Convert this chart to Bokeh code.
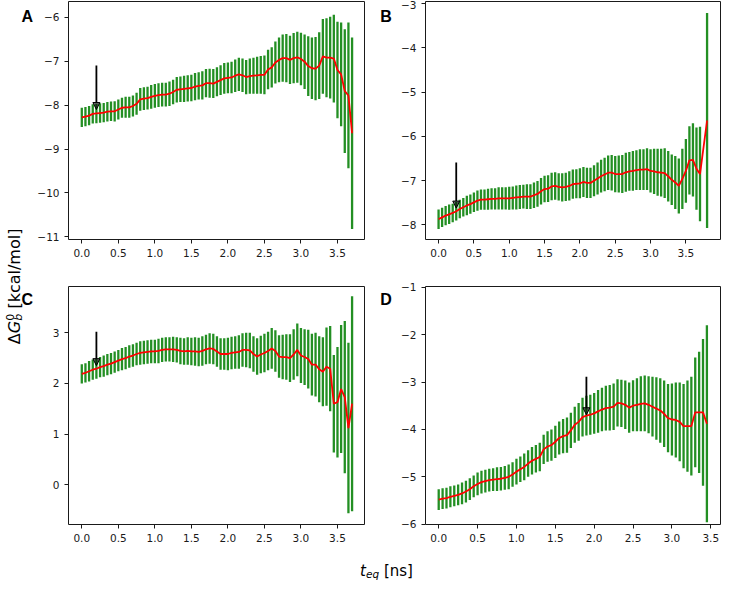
import numpy as np
from bokeh.plotting import figure
from bokeh.models import (Range1d, FixedTicker, CustomJSTickFormatter, Label,
                          Arrow, NormalHead, ColumnDataSource)
from bokeh.layouts import row, column
from bokeh.embed import file_html
from bokeh.resources import INLINE

# ---------------- data ----------------
x_ticks = [0.0, 0.5, 1.0, 1.5, 2.0, 2.5, 3.0, 3.5]

a_mean = [-8.28, -8.26, -8.24, -8.20, -8.19, -8.18, -8.17, -8.15, -8.14, -8.14,
          -8.10, -8.06, -8.05, -8.05, -8.02, -7.97, -7.87, -7.85, -7.84, -7.81,
          -7.79, -7.77, -7.76, -7.76, -7.74, -7.70, -7.65, -7.64, -7.63, -7.62,
          -7.61, -7.58, -7.56, -7.55, -7.50, -7.50, -7.51, -7.47, -7.43, -7.39,
          -7.38, -7.37, -7.33, -7.30, -7.32, -7.36, -7.34, -7.33, -7.32, -7.31,
          -7.31, -7.19, -7.14, -7.03, -6.97, -6.93, -6.93, -6.97, -6.93, -6.91,
          -6.95, -7.01, -7.11, -7.16, -7.17, -7.10, -6.89, -6.92, -6.92, -6.94,
          -7.20, -7.30, -7.68, -7.78, -8.64]
a_err = [0.22, 0.22, 0.22, 0.22, 0.22, 0.22, 0.22, 0.22, 0.22, 0.23,
         0.23, 0.23, 0.24, 0.24, 0.24, 0.25, 0.26, 0.26, 0.26, 0.27,
         0.27, 0.27, 0.27, 0.27, 0.28, 0.28, 0.29, 0.29, 0.30, 0.30,
         0.30, 0.31, 0.31, 0.32, 0.32, 0.33, 0.33, 0.33, 0.34, 0.35,
         0.35, 0.36, 0.37, 0.38, 0.38, 0.39, 0.40, 0.41, 0.42, 0.43,
         0.44, 0.45, 0.46, 0.48, 0.51, 0.54, 0.55, 0.55, 0.57, 0.58,
         0.60, 0.62, 0.68, 0.70, 0.72, 0.76, 0.85, 0.90, 0.93, 1.00,
         1.10, 1.18, 1.41, 1.66, 2.18]
a_yticks = [-11, -10, -9, -8, -7, -6]

b_mean = [-7.87, -7.83, -7.79, -7.76, -7.73, -7.69, -7.64, -7.60, -7.56, -7.53,
          -7.49, -7.45, -7.43, -7.43, -7.42, -7.41, -7.41, -7.40, -7.40, -7.40,
          -7.40, -7.39, -7.38, -7.37, -7.36, -7.36, -7.36, -7.33, -7.30, -7.24,
          -7.19, -7.18, -7.13, -7.12, -7.14, -7.15, -7.14, -7.12, -7.08, -7.07,
          -7.06, -7.03, -7.05, -7.05, -7.00, -6.95, -6.90, -6.86, -6.82, -6.82,
          -6.85, -6.85, -6.85, -6.81, -6.79, -6.78, -6.76, -6.75, -6.75, -6.74,
          -6.78, -6.79, -6.81, -6.82, -6.83, -6.90, -6.98, -7.04, -7.12, -6.96,
          -6.78, -6.54, -6.53, -6.73, -6.85, -5.64]
b_err = [0.22, 0.22, 0.22, 0.22, 0.21, 0.21, 0.21, 0.21, 0.22, 0.22,
         0.22, 0.23, 0.23, 0.23, 0.24, 0.24, 0.24, 0.25, 0.25, 0.25,
         0.26, 0.26, 0.27, 0.27, 0.27, 0.28, 0.28, 0.29, 0.29, 0.30,
         0.30, 0.30, 0.31, 0.31, 0.31, 0.32, 0.32, 0.33, 0.33, 0.33,
         0.34, 0.34, 0.34, 0.34, 0.35, 0.36, 0.37, 0.38, 0.39, 0.40,
         0.41, 0.42, 0.43, 0.44, 0.44, 0.45, 0.45, 0.46, 0.46, 0.47,
         0.49, 0.51, 0.53, 0.54, 0.56, 0.57, 0.57, 0.60, 0.62, 0.68,
         0.72, 0.77, 0.83, 0.93, 1.07, 2.43]
b_yticks = [-8, -7, -6, -5, -4, -3]

c_mean = [2.19, 2.21, 2.24, 2.27, 2.29, 2.32, 2.34, 2.37, 2.39, 2.42,
          2.45, 2.48, 2.50, 2.53, 2.55, 2.58, 2.60, 2.61, 2.62, 2.63,
          2.63, 2.64, 2.66, 2.67, 2.67, 2.67, 2.66, 2.64, 2.63, 2.64,
          2.63, 2.63, 2.62, 2.64, 2.67, 2.69, 2.68, 2.63, 2.58, 2.58,
          2.58, 2.60, 2.61, 2.62, 2.66, 2.66, 2.65, 2.58, 2.53, 2.57,
          2.60, 2.64, 2.69, 2.64, 2.53, 2.52, 2.52, 2.50, 2.57, 2.66,
          2.55, 2.52, 2.48, 2.37, 2.37, 2.28, 2.23, 2.33, 2.29, 1.60,
          1.63, 1.89, 1.73, 1.12, 1.60]
c_err = [0.19, 0.19, 0.20, 0.20, 0.20, 0.20, 0.21, 0.21, 0.21, 0.21,
         0.21, 0.22, 0.22, 0.22, 0.22, 0.22, 0.23, 0.23, 0.23, 0.23,
         0.23, 0.24, 0.24, 0.24, 0.24, 0.25, 0.25, 0.26, 0.26, 0.27,
         0.27, 0.28, 0.28, 0.29, 0.29, 0.30, 0.30, 0.30, 0.31, 0.31,
         0.32, 0.32, 0.32, 0.33, 0.33, 0.34, 0.35, 0.35, 0.36, 0.37,
         0.38, 0.38, 0.40, 0.41, 0.42, 0.44, 0.45, 0.47, 0.50, 0.52,
         0.54, 0.55, 0.58, 0.61, 0.63, 0.65, 0.68, 0.77, 0.84, 0.96,
         1.09, 1.26, 1.50, 1.68, 2.12]
c_yticks = [0, 1, 2, 3]

d_mean = [-5.48, -5.46, -5.45, -5.42, -5.40, -5.38, -5.35, -5.31, -5.26, -5.20,
          -5.15, -5.11, -5.09, -5.07, -5.06, -5.05, -5.04, -5.02, -5.00, -4.95,
          -4.89, -4.84, -4.79, -4.72, -4.66, -4.62, -4.58, -4.42, -4.36, -4.33,
          -4.26, -4.18, -4.14, -4.12, -4.02, -3.90, -3.84, -3.74, -3.71, -3.69,
          -3.66, -3.62, -3.58, -3.55, -3.54, -3.52, -3.44, -3.45, -3.48, -3.54,
          -3.50, -3.48, -3.46, -3.45, -3.48, -3.52, -3.56, -3.60, -3.67, -3.76,
          -3.79, -3.80, -3.84, -3.93, -3.93, -3.93, -3.64, -3.64, -3.64, -3.88]
d_err = [0.22, 0.22, 0.22, 0.22, 0.22, 0.22, 0.23, 0.23, 0.23, 0.23,
         0.24, 0.24, 0.24, 0.24, 0.24, 0.25, 0.25, 0.25, 0.26, 0.26,
         0.27, 0.27, 0.28, 0.28, 0.29, 0.29, 0.30, 0.31, 0.32, 0.33,
         0.34, 0.35, 0.36, 0.37, 0.37, 0.38, 0.40, 0.41, 0.42, 0.42,
         0.43, 0.45, 0.46, 0.47, 0.48, 0.49, 0.50, 0.50, 0.51, 0.53,
         0.54, 0.56, 0.58, 0.59, 0.60, 0.63, 0.66, 0.68, 0.70, 0.72,
         0.76, 0.79, 0.83, 0.89, 0.96, 1.04, 1.16, 1.28, 1.55, 2.08]
d_yticks = [-6, -5, -4, -3, -2, -1]

# sampling times [ns] (one point every 0.05 ns; panel B ends with a point at 3.8)
a_t = [round(0.05 * i, 2) for i in range(len(a_mean))]
b_t = [round(0.05 * i, 2) for i in range(len(b_mean) - 1)] + [3.8]
c_t = [round(0.05 * i, 2) for i in range(len(c_mean))]
d_t = [round(0.05 * i, 2) for i in range(len(d_mean))]

# arrows marking the chosen equilibration time: x, y_start, y_end
arrow_a = (0.20, -7.10, -8.10)
arrow_b = (0.25, -6.59, -7.62)
arrow_c = (0.20, 3.02, 2.35)
arrow_d = (1.90, -2.89, -3.69)

panel_letters = ["A", "B", "C", "D"]

# ---------------- styling ----------------
GREEN = "#238f23"
RED = "#ff0000"
INK = "#1a1a1a"
TICK_FONT = "DejaVu Sans"
FH = 238
ROW1 = dict(mbt=1, mbb=33)
ROW2 = dict(mbt=14, mbb=22)
H1 = ROW1["mbt"] + FH + ROW1["mbb"]
H2 = ROW2["mbt"] + FH + ROW2["mbb"]
H = H1 + H2
ROW2_TOP = H1 + ROW2["mbt"]


def make_panel(t, m, e, xr, yr, yticks, arrow, fw, mbl, mbr, mbt, mbb):
    p = figure(width=mbl + fw + mbr, height=mbt + FH + mbb,
               x_range=Range1d(*xr), y_range=Range1d(*yr),
               toolbar_location=None, output_backend="svg",
               min_border_left=mbl, min_border_right=mbr,
               min_border_top=mbt, min_border_bottom=mbb,
               background_fill_color="white", border_fill_color="white",
               outline_line_color=INK, outline_line_width=1)
    m = np.asarray(m, dtype=float)
    e = np.asarray(e, dtype=float)
    src = ColumnDataSource(dict(t=t, m=m, lo=m - e, hi=m + e))
    p.segment(x0="t", y0="lo", x1="t", y1="hi", source=src,
              line_color=GREEN, line_width=2.3)
    p.line(x="t", y="m", source=src, line_color=RED, line_width=1.8)

    ax_x, ay0, ay1 = arrow
    p.add_layout(Arrow(end=NormalHead(size=7, fill_color="black", fill_alpha=0.6,
                                      line_color="black", line_width=1),
                       x_start=ax_x, y_start=ay0, x_end=ax_x, y_end=ay1,
                       line_color="black", line_width=1.8))

    p.grid.visible = False
    p.xaxis.ticker = FixedTicker(ticks=x_ticks)
    p.yaxis.ticker = FixedTicker(ticks=yticks)
    p.xaxis.formatter = CustomJSTickFormatter(code="return tick.toFixed(1);")
    p.yaxis.formatter = CustomJSTickFormatter(
        code="return (tick < 0 ? '\\u2212' : '') + Math.abs(tick).toFixed(0);")
    for ax in (p.xaxis[0], p.yaxis[0]):
        ax.axis_line_color = None
        ax.major_tick_line_color = INK
        ax.major_tick_out = 4
        ax.major_tick_in = 0
        ax.minor_tick_line_color = None
        ax.major_label_text_font = TICK_FONT
        ax.major_label_text_font_size = "10.5px"
        ax.major_label_text_color = INK
    p.xaxis.major_label_standoff = 5
    p.yaxis.major_label_standoff = 5
    return p


pA = make_panel(a_t, a_mean, a_err, (-0.182, 3.87), (-11.06, -5.64), a_yticks,
                arrow_a, 298, 32, 10, **ROW1)
pC = make_panel(c_t, c_mean, c_err, (-0.182, 3.87), (-0.78, 3.91), c_yticks,
                arrow_c, 298, 32, 10, **ROW2)
pB = make_panel(b_t, b_mean, b_err, (-0.185, 3.99), (-8.33, -2.95), b_yticks,
                arrow_b, 295, 30, 2, **ROW1)
pD = make_panel(d_t, d_mean, d_err, (-0.17, 3.625), (-6.005, -0.985), d_yticks,
                arrow_d, 295, 30, 2, **ROW2)


def strip(w, h):
    s = figure(width=w, height=h, x_range=Range1d(0, w), y_range=Range1d(0, h),
               toolbar_location=None, output_backend="svg", min_border=0,
               x_axis_type=None, y_axis_type=None, outline_line_color=None,
               background_fill_color="white", border_fill_color="white")
    return s


letter_style = dict(text_font="Liberation Sans", text_font_style="bold",
                    text_font_size="16px", text_color="black",
                    text_align="left", text_baseline="alphabetic")
y_top_letter = H - (ROW1["mbt"] + 14.5)
y_bot_letter = H - (ROW2_TOP + 12.5)

# ---- left strip: shared y label + letters A, C ----
ys = strip(34, H)
ys.add_layout(Label(x=21, y=y_top_letter, text=panel_letters[0], **letter_style))
ys.add_layout(Label(x=21, y=y_bot_letter, text=panel_letters[2], **letter_style))
xb = 14
y0 = (H - 286) - 57.7
common = dict(angle=np.pi / 2, text_align="left", text_baseline="alphabetic",
              text_color="black", text_font="DejaVu Sans")
ys.add_layout(Label(x=xb, y=y0, text="Δ", text_font_size="16px", **common))
ys.add_layout(Label(x=xb, y=y0 + 10.9, text="G", text_font_size="16px",
                    text_font_style="italic", **common))
ys.add_layout(Label(x=xb - 5.0, y=y0 + 23.5, text="0", text_font_size="11px", **common))
ys.add_layout(Label(x=xb + 3.5, y=y0 + 23.5, text="b", text_font_size="11px",
                    text_font_style="italic", **common))
ys.add_layout(Label(x=xb, y=y0 + 35.6, text="[kcal/mol]", text_font_size="16px", **common))

# ---- middle strip: letters B, D ----
ms = strip(21, H)
ms.add_layout(Label(x=5.7, y=y_top_letter, text=panel_letters[1], **letter_style))
ms.add_layout(Label(x=5.7, y=y_bot_letter, text=panel_letters[3], **letter_style))

# ---- bottom strip: shared x label ----
TOTAL_W = 34 + (32 + 298 + 10) + 21 + (30 + 295 + 2)
XS_H = 34
xs = strip(TOTAL_W, XS_H)
xcom = dict(text_align="left", text_baseline="alphabetic", text_color="black",
            text_font="DejaVu Sans")
x0 = 359.6
xs.add_layout(Label(x=x0, y=10, text="t", text_font_size="15px",
                    text_font_style="italic", **xcom))
xs.add_layout(Label(x=x0 + 5.9, y=7, text="eq", text_font_size="10.5px",
                    text_font_style="italic", **xcom))
xs.add_layout(Label(x=x0 + 23.8, y=10, text="[ns]", text_font_size="15px", **xcom))

layout = column(row(ys, column(pA, pC), ms, column(pB, pD)), xs)

with open("out.html", "w", encoding="utf-8") as f:
    f.write(file_html(layout, INLINE))
